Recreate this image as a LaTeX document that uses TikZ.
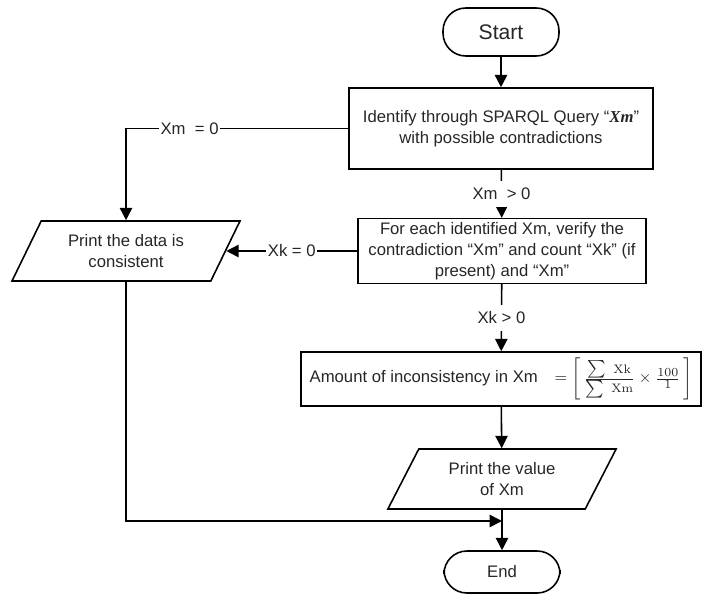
\documentclass[tikz,border=0pt]{standalone}
\usepackage[no-math]{fontspec}
\setmainfont{Liberation Sans}
\newfontfamily\serifxm{Liberation Serif}
\usetikzlibrary{arrows.meta,shapes.geometric}

\begin{document}
\begin{tikzpicture}[x=0.02cm,y=-0.02cm,
    every node/.style={font=\fontsize{9.5}{12}\selectfont, text=black!85},
    line width=0.9pt,
    arr/.style={-{Triangle[length=7pt,width=7pt]}},
    term/.style={draw, rounded corners=13pt, minimum width=2.32cm},
    proc/.style={draw, align=center, inner sep=2pt},
    io/.style={draw, trapezium, trapezium left angle=64, trapezium right angle=116,
        trapezium stretches=true, minimum width=4.58cm, minimum height=1.2cm, align=center},
    lbl/.style={fill=white, inner xsep=1pt, inner ysep=4pt}]
    \useasboundingbox (0,0) rectangle (702,598);

    \node[term, minimum height=0.96cm, font=\fontsize{12}{14}\selectfont] (start) at (501,32) {Start};
    \node[proc, minimum width=6.08cm, minimum height=1.62cm] (ident) at (501,128.5)
        {Identify through SPARQL Query ``{\serifxm\bfseries\itshape Xm}''\\with possible contradictions};
    \node[proc, minimum width=5.76cm, minimum height=1.28cm] (verify) at (502,251)
        {For each identified Xm, verify the\\contradiction ``Xm'' and count ``Xk'' (if\\present) and ``Xm''};
    \node[io] (consist) at (126,251) {Print the data is\\consistent};
    \node[proc, minimum width=8cm, minimum height=1.08cm] (amount) at (501,379)
        {Amount of inconsistency in Xm\quad
        $=\left[\,\frac{\textstyle\sum\;\scriptstyle\mathrm{Xk}}{\textstyle\sum\;\scriptstyle\mathrm{Xm}}
        \times\frac{100}{1}\,\right]$};
    \node[io] (value) at (502,479) {Print the value\\of Xm};
    \node[term, minimum height=0.84cm] (end) at (502,572) {End};
    \coordinate (merge) at (502,521);

    \draw[arr] (start) -- (ident);
    \draw[arr] (ident.west) -| node[lbl, pos=0.357] {Xm~~= 0} (consist.north);
    \draw[arr] (ident) -- node[lbl] {Xm~~> 0} (verify);
    \draw[arr] (verify.west) -- node[lbl] {Xk = 0} (consist.east);
    \draw[arr] (verify) -- node[lbl] {Xk > 0} (amount);
    \draw[arr] (amount) -- (value);
    \draw[arr] (value) -- (end);
    \draw[arr] (consist.south) |- (merge);
\end{tikzpicture}
\end{document}
